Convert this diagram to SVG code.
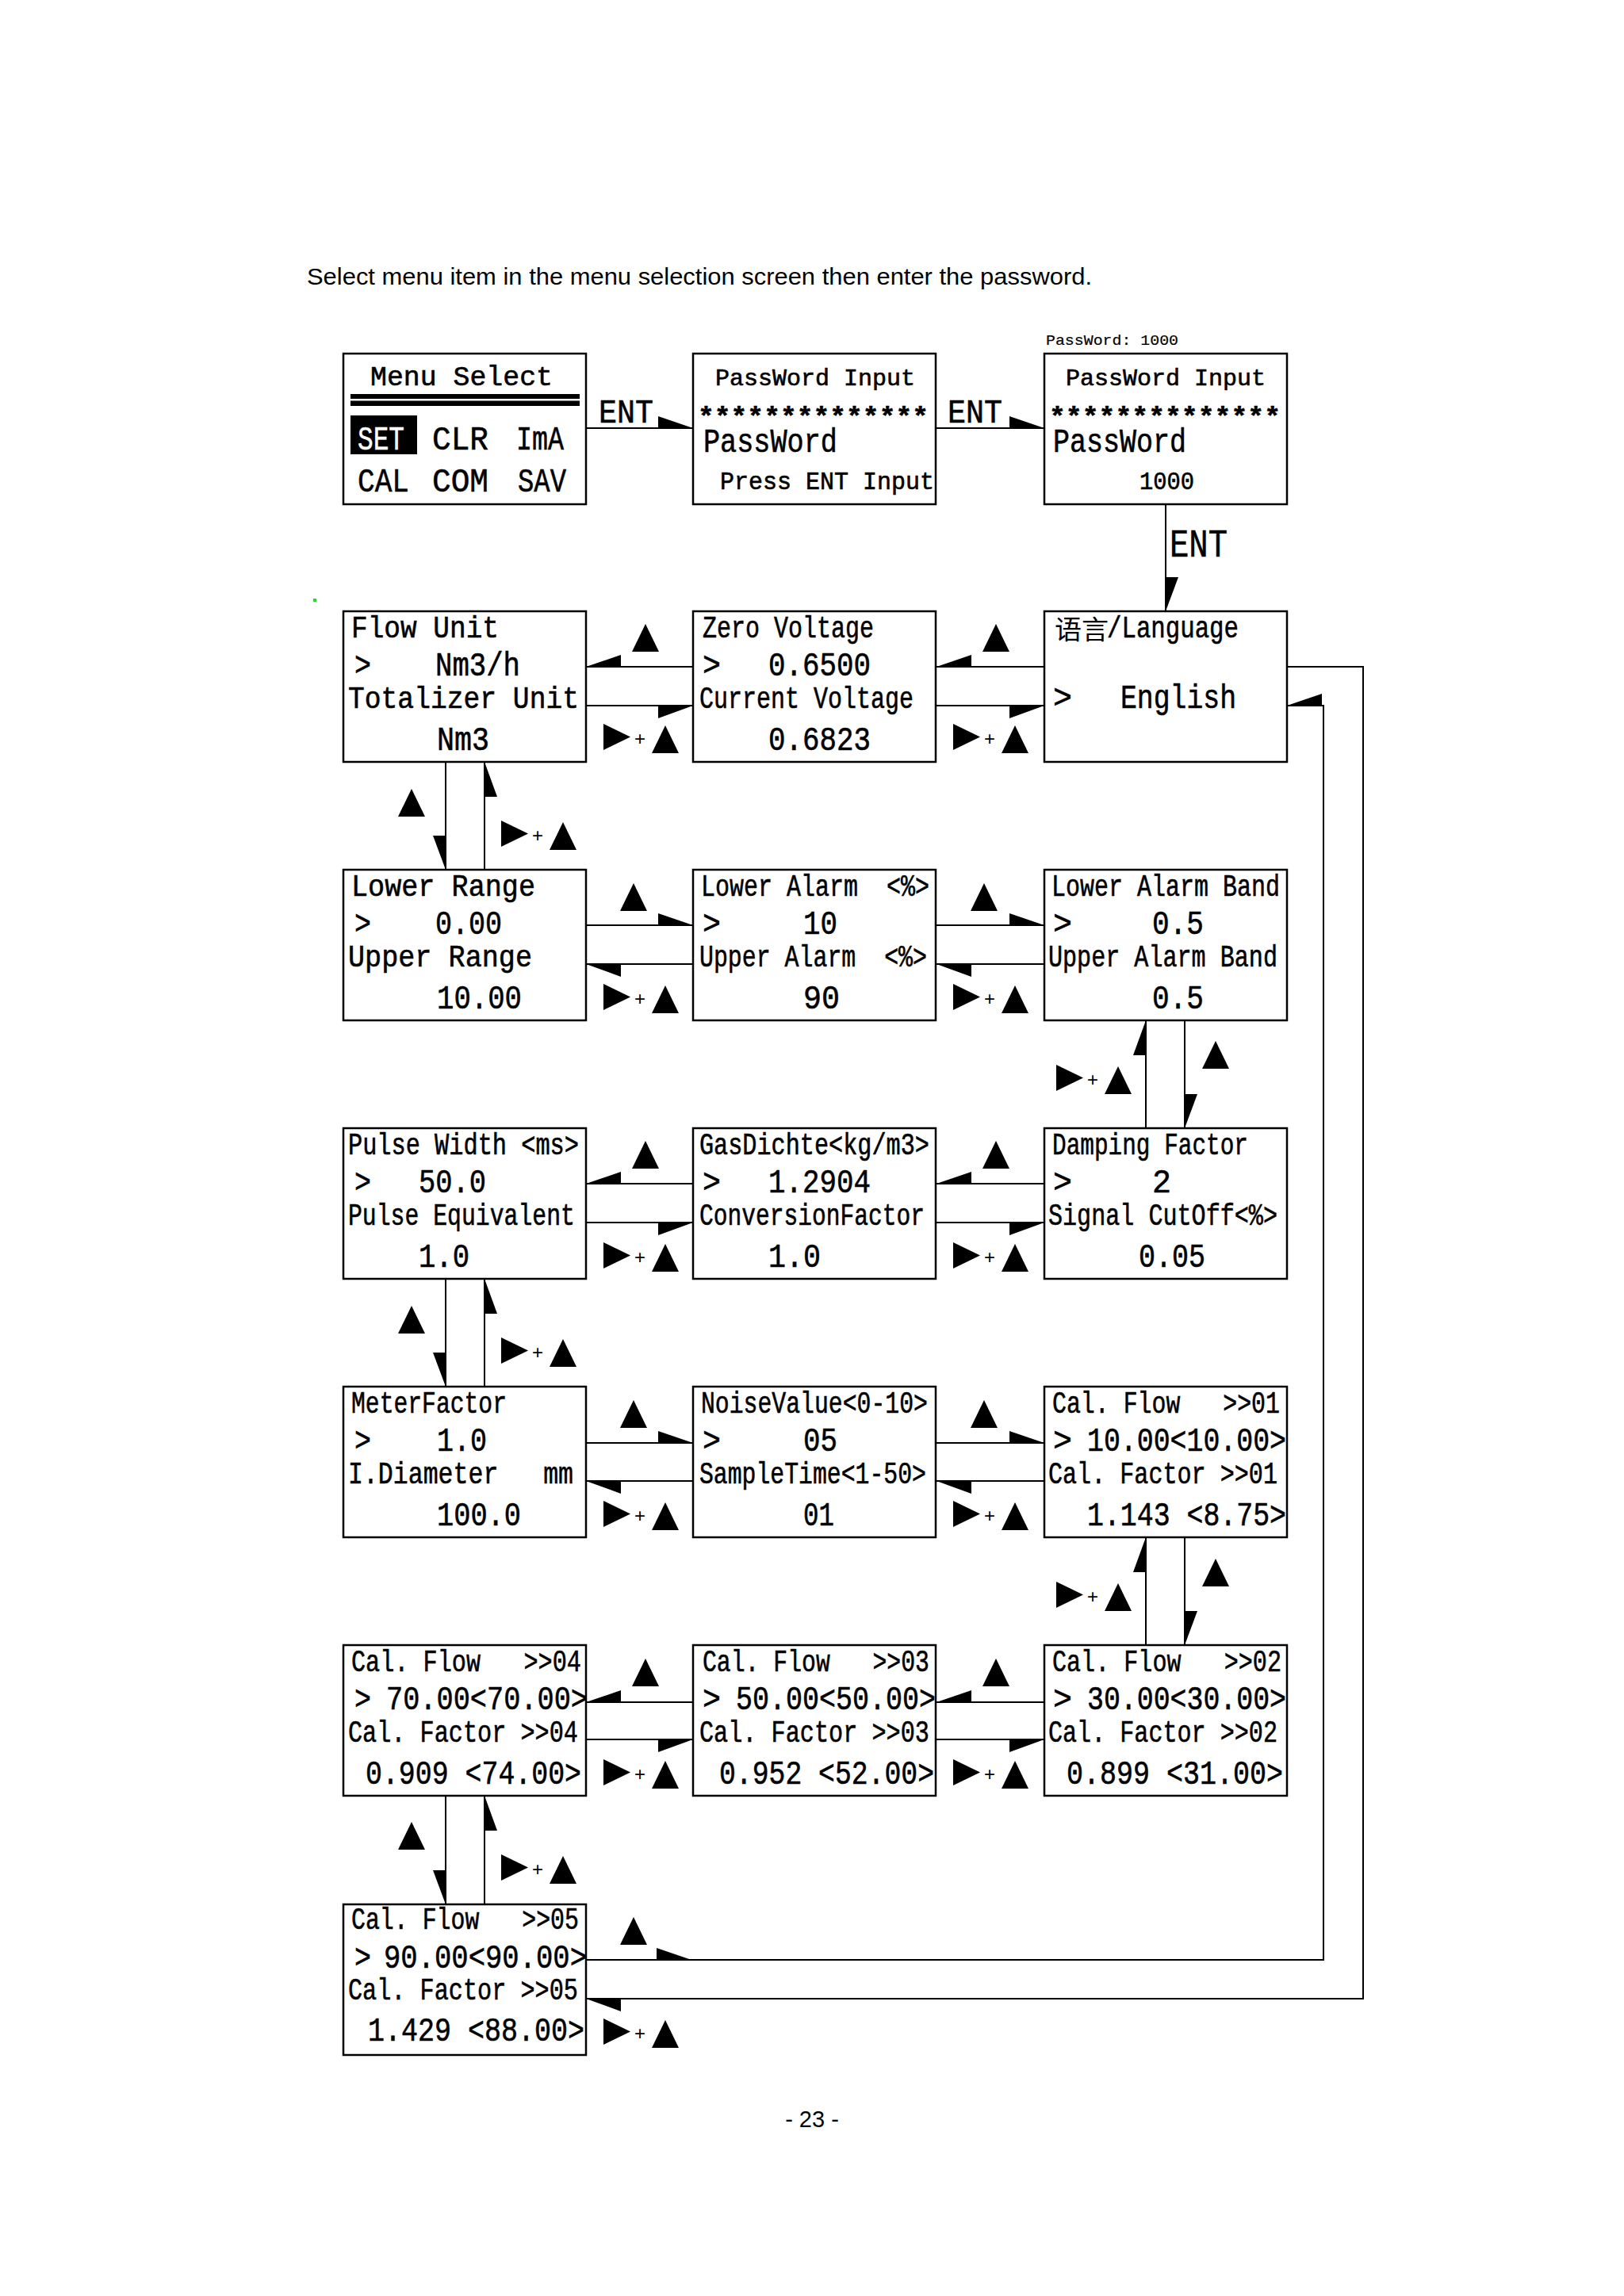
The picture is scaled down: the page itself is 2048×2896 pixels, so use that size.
<svg xmlns="http://www.w3.org/2000/svg" xmlns:xlink="http://www.w3.org/1999/xlink" width="2048" height="2896" viewBox="0 0 2048 2896">
<style>
.bx{fill:#fff;stroke:#000;stroke-width:2.5}
.ln{fill:none;stroke:#000;stroke-width:2}
.m{font-family:"Liberation Mono","DejaVu Sans Mono",monospace;fill:#000;stroke:#000;stroke-width:0.6;white-space:pre}
.a{font-size:39px}
.v{font-size:42px}
.w{fill:#fff;stroke:#fff}
.st{font-weight:bold;font-size:34px}
.cjk{font-family:"Noto Sans CJK SC","Noto Sans CJK JP",sans-serif;font-size:33px;fill:#000}
.sans{font-family:"Liberation Sans",Arial,sans-serif;fill:#000}
</style>
<defs>
<polygon id="tri" points="17,0 34,35 0,35"/>
<g id="bp"><polygon points="0,0 34,16.5 0,33"/><text class="sans" x="46" y="27" font-size="24" text-anchor="middle">+</text><use xlink:href="#tri" x="61" y="2"/></g>
<polygon id="hL" points="0,0 44,-15 44,0"/>
<polygon id="hLd" points="0,0 44,0 44,16"/>
<polygon id="hRu" points="0,0 -44,-15 -44,0"/>
<polygon id="hRd" points="0,0 -44,0 -44,16"/>
<polygon id="vDl" points="0,0 -16,-43 0,-43"/>
<polygon id="vDr" points="0,0 16,-43 0,-43"/>
<polygon id="vUl" points="0,0 -16,44 0,44"/>
<polygon id="vUr" points="0,0 16,44 0,44"/>
</defs>
<rect x="0" y="0" width="2048" height="2896" fill="#fff"/>
<text class="sans" x="387" y="359" font-size="30" textLength="990" lengthAdjust="spacingAndGlyphs">Select menu item in the menu selection screen then enter the password.</text>
<rect x="395" y="755" width="4" height="4" fill="#22dd22"/>
<text class="sans" x="1024" y="2683" font-size="29" text-anchor="middle">- 23 -</text>

<g id="connectors">
<!-- row 0 -->
<path class="ln" d="M739,540H874M1180,540H1317M1470,636V771"/>
<use xlink:href="#hRu" x="874" y="540"/>
<use xlink:href="#hRu" x="1317" y="540"/>
<use xlink:href="#vDr" x="1470" y="771"/>
<text class="m" x="755" y="533" font-size="42" textLength="69" lengthAdjust="spacingAndGlyphs">ENT</text>
<text class="m" x="1195" y="533" font-size="42" textLength="69" lengthAdjust="spacingAndGlyphs">ENT</text>
<text class="m" x="1475" y="702" font-size="50" textLength="73" lengthAdjust="spacingAndGlyphs">ENT</text>
<!-- row 1 (type L) -->
<path class="ln" d="M739,841H874M739,890H874M1180,841H1317M1180,890H1317"/>
<use xlink:href="#hL" x="739" y="841"/><use xlink:href="#tri" x="797" y="787"/>
<use xlink:href="#hRd" x="874" y="890"/><use xlink:href="#bp" x="761" y="913"/>
<use xlink:href="#hL" x="1181" y="841"/><use xlink:href="#tri" x="1239" y="787"/>
<use xlink:href="#hRd" x="1317" y="890"/><use xlink:href="#bp" x="1202" y="913"/>
<!-- col1 row1 to row2 -->
<path class="ln" d="M562,961V1097M611,961V1097"/>
<use xlink:href="#vDl" x="562" y="1097"/><use xlink:href="#tri" x="502" y="995"/>
<use xlink:href="#vUr" x="611" y="961"/><use xlink:href="#bp" x="632" y="1035"/>
<!-- row 2 (type R) -->
<path class="ln" d="M739,1167H874M739,1216H874M1180,1167H1317M1180,1216H1317"/>
<use xlink:href="#hRu" x="874" y="1167"/><use xlink:href="#tri" x="782" y="1114"/>
<use xlink:href="#hLd" x="739" y="1216"/><use xlink:href="#bp" x="761" y="1241"/>
<use xlink:href="#hRu" x="1317" y="1167"/><use xlink:href="#tri" x="1224" y="1114"/>
<use xlink:href="#hLd" x="1181" y="1216"/><use xlink:href="#bp" x="1202" y="1241"/>
<!-- col3 row2 to row3 -->
<path class="ln" d="M1445,1287V1423M1494,1287V1423"/>
<use xlink:href="#vUl" x="1445" y="1287"/><use xlink:href="#bp" x="1332" y="1343"/>
<use xlink:href="#vDr" x="1494" y="1423"/><use xlink:href="#tri" x="1516" y="1313"/>
<!-- row 3 (type L) -->
<path class="ln" d="M739,1493H874M739,1542H874M1180,1493H1317M1180,1542H1317"/>
<use xlink:href="#hL" x="739" y="1493"/><use xlink:href="#tri" x="797" y="1439"/>
<use xlink:href="#hRd" x="874" y="1542"/><use xlink:href="#bp" x="761" y="1567"/>
<use xlink:href="#hL" x="1181" y="1493"/><use xlink:href="#tri" x="1239" y="1439"/>
<use xlink:href="#hRd" x="1317" y="1542"/><use xlink:href="#bp" x="1202" y="1567"/>
<!-- col1 row3 to row4 -->
<path class="ln" d="M562,1613V1749M611,1613V1749"/>
<use xlink:href="#vDl" x="562" y="1749"/><use xlink:href="#tri" x="502" y="1647"/>
<use xlink:href="#vUr" x="611" y="1613"/><use xlink:href="#bp" x="632" y="1687"/>
<!-- row 4 (type R) -->
<path class="ln" d="M739,1820H874M739,1868H874M1180,1820H1317M1180,1868H1317"/>
<use xlink:href="#hRu" x="874" y="1820"/><use xlink:href="#tri" x="782" y="1766"/>
<use xlink:href="#hLd" x="739" y="1868"/><use xlink:href="#bp" x="761" y="1893"/>
<use xlink:href="#hRu" x="1317" y="1820"/><use xlink:href="#tri" x="1224" y="1766"/>
<use xlink:href="#hLd" x="1181" y="1868"/><use xlink:href="#bp" x="1202" y="1893"/>
<!-- col3 row4 to row5 -->
<path class="ln" d="M1445,1939V2075M1494,1939V2075"/>
<use xlink:href="#vUl" x="1445" y="1939"/><use xlink:href="#bp" x="1332" y="1995"/>
<use xlink:href="#vDr" x="1494" y="2075"/><use xlink:href="#tri" x="1516" y="1966"/>
<!-- row 5 (type L) -->
<path class="ln" d="M739,2147H874M739,2194H874M1180,2147H1317M1180,2194H1317"/>
<use xlink:href="#hL" x="739" y="2147"/><use xlink:href="#tri" x="797" y="2092"/>
<use xlink:href="#hRd" x="874" y="2194"/><use xlink:href="#bp" x="761" y="2219"/>
<use xlink:href="#hL" x="1181" y="2147"/><use xlink:href="#tri" x="1239" y="2092"/>
<use xlink:href="#hRd" x="1317" y="2194"/><use xlink:href="#bp" x="1202" y="2219"/>
<!-- col1 row5 to row6 -->
<path class="ln" d="M562,2265V2402M611,2265V2402"/>
<use xlink:href="#vDl" x="562" y="2402"/><use xlink:href="#tri" x="502" y="2298"/>
<use xlink:href="#vUr" x="611" y="2265"/><use xlink:href="#bp" x="632" y="2339"/>
<!-- row 6 return loops -->
<path class="ln" d="M739,2472H1669V890H1623M739,2521H1719V841H1623"/>
<use xlink:href="#hRu" x="872" y="2472"/><use xlink:href="#tri" x="782" y="2418"/>
<use xlink:href="#hL" x="1623" y="890"/>
<use xlink:href="#hLd" x="739" y="2521"/><use xlink:href="#bp" x="761" y="2546"/>
</g>

<g id="menu-select">
<rect class="bx" x="433" y="446" width="306" height="190"/>
<text class="m" x="467" y="486" font-size="35" textLength="230" lengthAdjust="spacingAndGlyphs">Menu Select</text>
<rect x="442" y="497" width="289" height="6"/>
<rect x="442" y="505.5" width="289" height="6.5"/>
<rect x="442" y="524" width="84" height="49"/>
<text class="m w" x="451" y="567" font-size="43" textLength="59" lengthAdjust="spacingAndGlyphs">SET</text>
<text class="m" x="545" y="567" font-size="43" textLength="71" lengthAdjust="spacingAndGlyphs">CLR</text>
<text class="m" x="651" y="567" font-size="43" textLength="60" lengthAdjust="spacingAndGlyphs">ImA</text>
<text class="m" x="451" y="620" font-size="43" textLength="65" lengthAdjust="spacingAndGlyphs">CAL</text>
<text class="m" x="545" y="620" font-size="43" textLength="71" lengthAdjust="spacingAndGlyphs">COM</text>
<text class="m" x="653" y="620" font-size="43" textLength="61" lengthAdjust="spacingAndGlyphs">SAV</text>
</g>

<g id="password-input">
<rect class="bx" x="874" y="446" width="306" height="190"/>
<text class="m" x="902" y="486" font-size="30" textLength="252" lengthAdjust="spacingAndGlyphs">PassWord Input</text>
<text class="m st" x="880" y="536" textLength="291" lengthAdjust="spacingAndGlyphs">**************</text>
<text class="m" x="887" y="570" font-size="42" textLength="169" lengthAdjust="spacingAndGlyphs">PassWord</text>
<text class="m" x="908" y="617" font-size="31" textLength="270" lengthAdjust="spacingAndGlyphs">Press ENT Input</text>
</g>

<g id="password-entered">
<text class="m" x="1319" y="435" font-size="19" textLength="167" lengthAdjust="spacingAndGlyphs" style="stroke-width:0.2">PassWord: 1000</text>
<rect class="bx" x="1317" y="446" width="306" height="190"/>
<text class="m" x="1344" y="486" font-size="30" textLength="252" lengthAdjust="spacingAndGlyphs">PassWord Input</text>
<text class="m st" x="1323" y="536" textLength="292" lengthAdjust="spacingAndGlyphs">**************</text>
<text class="m" x="1328" y="570" font-size="42" textLength="168" lengthAdjust="spacingAndGlyphs">PassWord</text>
<text class="m" x="1437" y="617" font-size="31" textLength="69" lengthAdjust="spacingAndGlyphs">1000</text>
</g>

<g id="flow-unit">
<rect class="bx" x="433" y="771" width="306" height="190"/>
<text class="m a" x="443" y="804" textLength="186" lengthAdjust="spacingAndGlyphs">Flow Unit</text>
<text class="m v" x="447" y="852" textLength="21" lengthAdjust="spacingAndGlyphs">&gt;</text>
<text class="m v" x="549" y="852" textLength="107" lengthAdjust="spacingAndGlyphs">Nm3/h</text>
<text class="m a" x="439" y="893" textLength="291" lengthAdjust="spacingAndGlyphs">Totalizer Unit</text>
<text class="m v" x="551" y="946" textLength="66" lengthAdjust="spacingAndGlyphs">Nm3</text>
</g>

<g id="zero-voltage">
<rect class="bx" x="874" y="771" width="306" height="190"/>
<text class="m a" x="886" y="804" textLength="216" lengthAdjust="spacingAndGlyphs">Zero Voltage</text>
<text class="m v" x="886" y="852" textLength="23" lengthAdjust="spacingAndGlyphs">&gt;</text>
<text class="m v" x="969" y="852" textLength="129" lengthAdjust="spacingAndGlyphs">0.6500</text>
<text class="m a" x="882" y="893" textLength="270" lengthAdjust="spacingAndGlyphs">Current Voltage</text>
<text class="m v" x="969" y="946" textLength="129" lengthAdjust="spacingAndGlyphs">0.6823</text>
</g>

<g id="language">
<rect class="bx" x="1317" y="771" width="306" height="190"/>
<text class="cjk" x="1330" y="806" textLength="68" lengthAdjust="spacingAndGlyphs">语言</text>
<text class="m a" x="1396" y="804" textLength="166" lengthAdjust="spacingAndGlyphs">/Language</text>
<text class="m v" x="1328" y="893" textLength="24" lengthAdjust="spacingAndGlyphs">&gt;</text>
<text class="m v" x="1413" y="893" textLength="146" lengthAdjust="spacingAndGlyphs">English</text>
</g>

<g id="lower-range">
<rect class="bx" x="433" y="1097" width="306" height="190"/>
<text class="m a" x="443" y="1130" textLength="232" lengthAdjust="spacingAndGlyphs">Lower Range</text>
<text class="m v" x="447" y="1178" textLength="21" lengthAdjust="spacingAndGlyphs">&gt;</text>
<text class="m v" x="549" y="1178" textLength="84" lengthAdjust="spacingAndGlyphs">0.00</text>
<text class="m a" x="439" y="1219" textLength="232" lengthAdjust="spacingAndGlyphs">Upper Range</text>
<text class="m v" x="551" y="1272" textLength="107" lengthAdjust="spacingAndGlyphs">10.00</text>
</g>

<g id="lower-alarm">
<rect class="bx" x="874" y="1097" width="306" height="190"/>
<text class="m a" x="884" y="1130" textLength="288" lengthAdjust="spacingAndGlyphs" xml:space="preserve">Lower Alarm  &lt;%&gt;</text>
<text class="m v" x="886" y="1178" textLength="23" lengthAdjust="spacingAndGlyphs">&gt;</text>
<text class="m v" x="1013" y="1178" textLength="43" lengthAdjust="spacingAndGlyphs">10</text>
<text class="m a" x="882" y="1219" textLength="287" lengthAdjust="spacingAndGlyphs" xml:space="preserve">Upper Alarm  &lt;%&gt;</text>
<text class="m v" x="1013" y="1272" textLength="46" lengthAdjust="spacingAndGlyphs">90</text>
</g>

<g id="lower-alarm-band">
<rect class="bx" x="1317" y="1097" width="306" height="190"/>
<text class="m a" x="1326" y="1130" textLength="288" lengthAdjust="spacingAndGlyphs">Lower Alarm Band</text>
<text class="m v" x="1328" y="1178" textLength="24" lengthAdjust="spacingAndGlyphs">&gt;</text>
<text class="m v" x="1453" y="1178" textLength="65" lengthAdjust="spacingAndGlyphs">0.5</text>
<text class="m a" x="1322" y="1219" textLength="289" lengthAdjust="spacingAndGlyphs">Upper Alarm Band</text>
<text class="m v" x="1453" y="1272" textLength="65" lengthAdjust="spacingAndGlyphs">0.5</text>
</g>

<g id="pulse-width">
<rect class="bx" x="433" y="1423" width="306" height="190"/>
<text class="m a" x="439" y="1456" textLength="291" lengthAdjust="spacingAndGlyphs">Pulse Width &lt;ms&gt;</text>
<text class="m v" x="447" y="1504" textLength="21" lengthAdjust="spacingAndGlyphs">&gt;</text>
<text class="m v" x="528" y="1504" textLength="85" lengthAdjust="spacingAndGlyphs">50.0</text>
<text class="m a" x="439" y="1545" textLength="286" lengthAdjust="spacingAndGlyphs">Pulse Equivalent</text>
<text class="m v" x="528" y="1598" textLength="64" lengthAdjust="spacingAndGlyphs">1.0</text>
</g>

<g id="gas-density">
<rect class="bx" x="874" y="1423" width="306" height="190"/>
<text class="m a" x="882" y="1456" textLength="290" lengthAdjust="spacingAndGlyphs">GasDichte&lt;kg/m3&gt;</text>
<text class="m v" x="886" y="1504" textLength="23" lengthAdjust="spacingAndGlyphs">&gt;</text>
<text class="m v" x="969" y="1504" textLength="129" lengthAdjust="spacingAndGlyphs">1.2904</text>
<text class="m a" x="882" y="1545" textLength="284" lengthAdjust="spacingAndGlyphs">ConversionFactor</text>
<text class="m v" x="969" y="1598" textLength="66" lengthAdjust="spacingAndGlyphs">1.0</text>
</g>

<g id="damping-factor">
<rect class="bx" x="1317" y="1423" width="306" height="190"/>
<text class="m a" x="1327" y="1456" textLength="247" lengthAdjust="spacingAndGlyphs">Damping Factor</text>
<text class="m v" x="1328" y="1504" textLength="24" lengthAdjust="spacingAndGlyphs">&gt;</text>
<text class="m v" x="1453" y="1504" textLength="24" lengthAdjust="spacingAndGlyphs">2</text>
<text class="m a" x="1322" y="1545" textLength="289" lengthAdjust="spacingAndGlyphs">Signal CutOff&lt;%&gt;</text>
<text class="m v" x="1436" y="1598" textLength="84" lengthAdjust="spacingAndGlyphs">0.05</text>
</g>

<g id="meter-factor">
<rect class="bx" x="433" y="1749" width="306" height="190"/>
<text class="m a" x="443" y="1782" textLength="196" lengthAdjust="spacingAndGlyphs">MeterFactor</text>
<text class="m v" x="447" y="1830" textLength="21" lengthAdjust="spacingAndGlyphs">&gt;</text>
<text class="m v" x="551" y="1830" textLength="63" lengthAdjust="spacingAndGlyphs">1.0</text>
<text class="m a" x="439" y="1871" textLength="284" lengthAdjust="spacingAndGlyphs" xml:space="preserve">I.Diameter   mm</text>
<text class="m v" x="551" y="1924" textLength="106" lengthAdjust="spacingAndGlyphs">100.0</text>
</g>

<g id="noise-value">
<rect class="bx" x="874" y="1749" width="306" height="190"/>
<text class="m a" x="884" y="1782" textLength="286" lengthAdjust="spacingAndGlyphs">NoiseValue&lt;0-10&gt;</text>
<text class="m v" x="886" y="1830" textLength="23" lengthAdjust="spacingAndGlyphs">&gt;</text>
<text class="m v" x="1013" y="1830" textLength="43" lengthAdjust="spacingAndGlyphs">05</text>
<text class="m a" x="882" y="1871" textLength="286" lengthAdjust="spacingAndGlyphs">SampleTime&lt;1-50&gt;</text>
<text class="m v" x="1013" y="1924" textLength="39" lengthAdjust="spacingAndGlyphs">01</text>
</g>

<g id="cal-01">
<rect class="bx" x="1317" y="1749" width="306" height="190"/>
<text class="m a" x="1327" y="1782" textLength="287" lengthAdjust="spacingAndGlyphs" xml:space="preserve">Cal. Flow   &gt;&gt;01</text>
<text class="m v" x="1328" y="1830" textLength="24" lengthAdjust="spacingAndGlyphs">&gt;</text>
<text class="m v" x="1371" y="1830" textLength="251" lengthAdjust="spacingAndGlyphs">10.00&lt;10.00&gt;</text>
<text class="m a" x="1322" y="1871" textLength="289" lengthAdjust="spacingAndGlyphs">Cal. Factor &gt;&gt;01</text>
<text class="m v" x="1371" y="1924" textLength="251" lengthAdjust="spacingAndGlyphs">1.143 &lt;8.75&gt;</text>
</g>

<g id="cal-04">
<rect class="bx" x="433" y="2075" width="306" height="190"/>
<text class="m a" x="443" y="2108" textLength="290" lengthAdjust="spacingAndGlyphs" xml:space="preserve">Cal. Flow   &gt;&gt;04</text>
<text class="m v" x="447" y="2156" textLength="21" lengthAdjust="spacingAndGlyphs">&gt;</text>
<text class="m v" x="487" y="2156" textLength="254" lengthAdjust="spacingAndGlyphs">70.00&lt;70.00&gt;</text>
<text class="m a" x="439" y="2197" textLength="290" lengthAdjust="spacingAndGlyphs">Cal. Factor &gt;&gt;04</text>
<text class="m v" x="461" y="2250" textLength="272" lengthAdjust="spacingAndGlyphs">0.909 &lt;74.00&gt;</text>
</g>

<g id="cal-03">
<rect class="bx" x="874" y="2075" width="306" height="190"/>
<text class="m a" x="886" y="2108" textLength="286" lengthAdjust="spacingAndGlyphs" xml:space="preserve">Cal. Flow   &gt;&gt;03</text>
<text class="m v" x="886" y="2156" textLength="23" lengthAdjust="spacingAndGlyphs">&gt;</text>
<text class="m v" x="928" y="2156" textLength="252" lengthAdjust="spacingAndGlyphs">50.00&lt;50.00&gt;</text>
<text class="m a" x="882" y="2197" textLength="290" lengthAdjust="spacingAndGlyphs">Cal. Factor &gt;&gt;03</text>
<text class="m v" x="907" y="2250" textLength="271" lengthAdjust="spacingAndGlyphs">0.952 &lt;52.00&gt;</text>
</g>

<g id="cal-02">
<rect class="bx" x="1317" y="2075" width="306" height="190"/>
<text class="m a" x="1327" y="2108" textLength="289" lengthAdjust="spacingAndGlyphs" xml:space="preserve">Cal. Flow   &gt;&gt;02</text>
<text class="m v" x="1328" y="2156" textLength="24" lengthAdjust="spacingAndGlyphs">&gt;</text>
<text class="m v" x="1371" y="2156" textLength="251" lengthAdjust="spacingAndGlyphs">30.00&lt;30.00&gt;</text>
<text class="m a" x="1322" y="2197" textLength="289" lengthAdjust="spacingAndGlyphs">Cal. Factor &gt;&gt;02</text>
<text class="m v" x="1345" y="2250" textLength="273" lengthAdjust="spacingAndGlyphs">0.899 &lt;31.00&gt;</text>
</g>

<g id="cal-05">
<rect class="bx" x="433" y="2402" width="306" height="190"/>
<text class="m a" x="443" y="2433" textLength="287" lengthAdjust="spacingAndGlyphs" xml:space="preserve">Cal. Flow   &gt;&gt;05</text>
<text class="m v" x="447" y="2482" textLength="21" lengthAdjust="spacingAndGlyphs">&gt;</text>
<text class="m v" x="484" y="2482" textLength="256" lengthAdjust="spacingAndGlyphs">90.00&lt;90.00&gt;</text>
<text class="m a" x="439" y="2522" textLength="290" lengthAdjust="spacingAndGlyphs">Cal. Factor &gt;&gt;05</text>
<text class="m v" x="464" y="2574" textLength="273" lengthAdjust="spacingAndGlyphs">1.429 &lt;88.00&gt;</text>
</g>
</svg>
